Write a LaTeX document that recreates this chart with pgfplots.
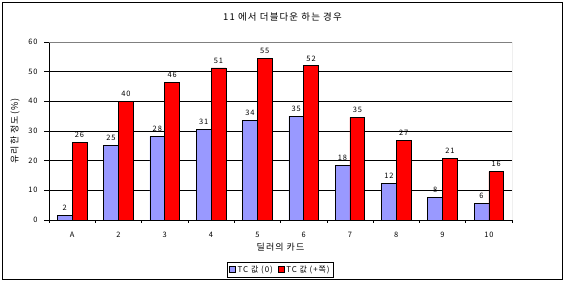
\documentclass[border=0pt]{standalone}
\usepackage{pgfplots}
\pgfplotsset{compat=1.18}
\usepackage{fontspec}
\setmainfont[LetterSpace=12]{Noto Sans CJK KR}
\definecolor{tcblue}{HTML}{9999FF}
\definecolor{tcred}{HTML}{FF0000}
\begin{document}
\begin{tikzpicture}
\path[use as bounding box] (-49bp,-63bp) rectangle (517bp,220bp);
\draw[line width=1bp] (-46bp,-59bp) rectangle (513bp,217bp);
\begin{axis}[
  at={(0,0)}, anchor=south west,
  scale only axis, width=463bp, height=178bp,
  ybar=0pt, bar width=0.32,
  xmin=-0.5, xmax=9.5, ymin=0, ymax=60,
  xtick={0,...,9},
  xticklabels={A,2,3,4,5,6,7,8,9,10},
  minor xtick={-0.5,0.5,...,9.5},
  ytick={0,10,...,60},
  major x tick style={draw=none},
  minor tick length=3bp, major tick length=5bp,
  tick align=outside,
  xtick pos=bottom, ytick pos=left,
  tick style={black, line width=0.6bp},
  axis lines*=left,
  axis line style={-, black, line width=0.8bp},
  ymajorgrids, grid style={black, line width=0.8bp},
  /pgf/number format/assume math mode=true,
  ticklabel style={font=\fontsize{7.5}{8}\selectfont},
  xticklabel style={yshift=-4bp},
  yticklabel style={xshift=-3bp},
  xlabel={딜러의 카드},
  xlabel style={font=\fontsize{9}{10}\selectfont, at={(axis description cs:0.5,0)}, anchor=north, yshift=-20bp},
  ylabel={유리한 정도(\%)},
  ylabel style={font=\fontsize{9}{10}\selectfont, at={(axis description cs:-0.056,0.5)}, anchor=south},
  title={11 에서 더블다운 하는 경우},
  title style={font=\fontsize{9.5}{10}\selectfont, at={(axis description cs:0.5,1)}, anchor=center, yshift=19bp, xshift=2bp},
  nodes near coords,
  nodes near coords style={font=\fontsize{7.5}{8}\selectfont, black, /pgf/number format/fixed, /pgf/number format/precision=0, yshift=1bp},
  legend style={at={(axis description cs:0.5,-0.236)}, anchor=north, legend columns=2, draw=black, line width=0.8bp, font=\fontsize{8}{9}\selectfont, inner sep=1.5bp, /tikz/every even column/.append style={column sep=3bp}},
  legend image code/.code={\draw[#1, line width=0.4bp] (0bp,-2.5bp) rectangle (6bp,3.5bp);},
]
\addplot[fill=tcblue, draw=black, line width=0.6bp] coordinates {
  (0,1.6) (1,25.2) (2,28.2) (3,30.6) (4,33.6) (5,35.0) (6,18.4) (7,12.3) (8,7.6) (9,5.6)};
\addplot[fill=tcred, draw=black, line width=0.6bp] coordinates {
  (0,26.1) (1,40.0) (2,46.3) (3,51.3) (4,54.5) (5,52.0) (6,34.6) (7,26.8) (8,20.7) (9,16.3)};
\legend{TC 값 (0), TC 값 (+쪽)}
\draw[gray, line width=0.8bp] (rel axis cs:0,1) -- (rel axis cs:1,1) -- (rel axis cs:1,0);
\end{axis}
\end{tikzpicture}
\end{document}
